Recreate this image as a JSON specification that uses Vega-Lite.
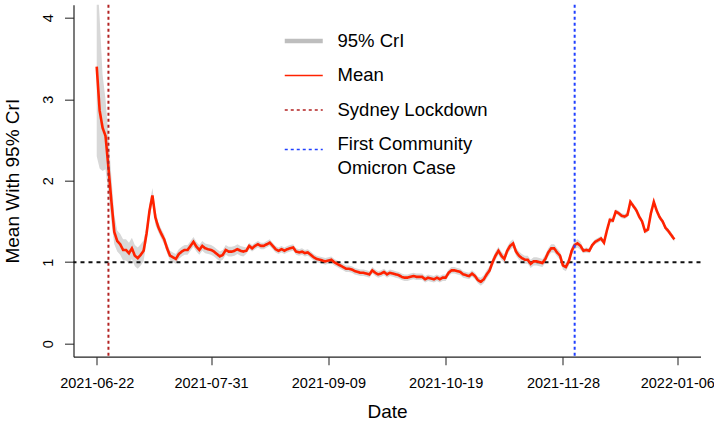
{
  "$schema": "https://vega.github.io/schema/vega-lite/v6.json",
  "width": 627,
  "height": 352,
  "autosize": {"type": "none"},
  "padding": {"left": 73.5, "top": 4.7, "right": 13.5, "bottom": 71.3},
  "background": "white",
  "config": {
    "view": {"stroke": null},
    "font": "Liberation Sans",
    "axis": {
      "grid": false,
      "domainColor": "#222222",
      "tickColor": "#444444",
      "domainWidth": 1.2,
      "tickWidth": 1.2,
      "labelColor": "#000000",
      "titleColor": "#000000",
      "labelFont": "Liberation Sans",
      "titleFont": "Liberation Sans",
      "labelFontSize": 14.5,
      "titleFontSize": 19,
      "titleFontWeight": "normal"
    },
    "legend": {
      "orient": "none", "legendX": 221, "legendY": 27,
      "symbolType": "M-2,0L2,0", "symbolSize": 361, "symbolStrokeWidth": 1.6,
      "labelFont": "Liberation Sans", "labelFontSize": 18.5, "labelColor": "#000000",
      "labelOffset": 24.5, "rowPadding": 15.5, "padding": 0, "labelLimit": 400
    }
  },
  "datasets": {
    "r": [
      {"date":"2021-06-22","mean":3.40,"lo":2.30,"hi":4.60},
      {"date":"2021-06-23","mean":2.86,"lo":2.15,"hi":4.00},
      {"date":"2021-06-24","mean":2.65,"lo":2.12,"hi":3.30},
      {"date":"2021-06-25","mean":2.55,"lo":2.14,"hi":3.00},
      {"date":"2021-06-26","mean":2.16,"lo":1.85,"hi":2.55},
      {"date":"2021-06-27","mean":1.75,"lo":1.50,"hi":2.05},
      {"date":"2021-06-28","mean":1.37,"lo":1.22,"hi":1.58},
      {"date":"2021-06-29","mean":1.26,"lo":1.13,"hi":1.39},
      {"date":"2021-06-30","mean":1.22,"lo":1.09,"hi":1.35},
      {"date":"2021-07-01","mean":1.15,"lo":1.02,"hi":1.28},
      {"date":"2021-07-02","mean":1.15,"lo":1.02,"hi":1.28},
      {"date":"2021-07-03","mean":1.11,"lo":0.98,"hi":1.24},
      {"date":"2021-07-04","mean":1.17,"lo":1.04,"hi":1.30},
      {"date":"2021-07-05","mean":1.08,"lo":0.95,"hi":1.21},
      {"date":"2021-07-06","mean":1.05,"lo":0.92,"hi":1.18},
      {"date":"2021-07-07","mean":1.09,"lo":0.96,"hi":1.22},
      {"date":"2021-07-08","mean":1.14,"lo":1.01,"hi":1.27},
      {"date":"2021-07-09","mean":1.35,"lo":1.26,"hi":1.44},
      {"date":"2021-07-10","mean":1.63,"lo":1.54,"hi":1.72},
      {"date":"2021-07-11","mean":1.82,"lo":1.73,"hi":1.91},
      {"date":"2021-07-12","mean":1.55,"lo":1.46,"hi":1.64},
      {"date":"2021-07-13","mean":1.43,"lo":1.37,"hi":1.49},
      {"date":"2021-07-14","mean":1.35,"lo":1.29,"hi":1.41},
      {"date":"2021-07-15","mean":1.28,"lo":1.22,"hi":1.34},
      {"date":"2021-07-16","mean":1.17,"lo":1.11,"hi":1.23},
      {"date":"2021-07-17","mean":1.08,"lo":1.02,"hi":1.14},
      {"date":"2021-07-18","mean":1.06,"lo":1.00,"hi":1.12},
      {"date":"2021-07-19","mean":1.04,"lo":0.98,"hi":1.10},
      {"date":"2021-07-20","mean":1.10,"lo":1.04,"hi":1.16},
      {"date":"2021-07-21","mean":1.13,"lo":1.07,"hi":1.19},
      {"date":"2021-07-22","mean":1.15,"lo":1.09,"hi":1.21},
      {"date":"2021-07-23","mean":1.15,"lo":1.09,"hi":1.21},
      {"date":"2021-07-24","mean":1.20,"lo":1.14,"hi":1.26},
      {"date":"2021-07-25","mean":1.25,"lo":1.19,"hi":1.31},
      {"date":"2021-07-26","mean":1.19,"lo":1.13,"hi":1.25},
      {"date":"2021-07-27","mean":1.15,"lo":1.09,"hi":1.21},
      {"date":"2021-07-28","mean":1.20,"lo":1.14,"hi":1.26},
      {"date":"2021-07-29","mean":1.17,"lo":1.11,"hi":1.23},
      {"date":"2021-07-30","mean":1.16,"lo":1.10,"hi":1.22},
      {"date":"2021-07-31","mean":1.15,"lo":1.09,"hi":1.21},
      {"date":"2021-08-01","mean":1.13,"lo":1.07,"hi":1.19},
      {"date":"2021-08-02","mean":1.10,"lo":1.04,"hi":1.16},
      {"date":"2021-08-03","mean":1.07,"lo":1.01,"hi":1.13},
      {"date":"2021-08-04","mean":1.09,"lo":1.03,"hi":1.15},
      {"date":"2021-08-05","mean":1.15,"lo":1.09,"hi":1.21},
      {"date":"2021-08-06","mean":1.13,"lo":1.07,"hi":1.19},
      {"date":"2021-08-07","mean":1.13,"lo":1.07,"hi":1.19},
      {"date":"2021-08-08","mean":1.14,"lo":1.08,"hi":1.20},
      {"date":"2021-08-09","mean":1.16,"lo":1.10,"hi":1.22},
      {"date":"2021-08-10","mean":1.14,"lo":1.08,"hi":1.20},
      {"date":"2021-08-11","mean":1.13,"lo":1.07,"hi":1.19},
      {"date":"2021-08-12","mean":1.14,"lo":1.10,"hi":1.18},
      {"date":"2021-08-13","mean":1.20,"lo":1.16,"hi":1.24},
      {"date":"2021-08-14","mean":1.17,"lo":1.13,"hi":1.21},
      {"date":"2021-08-15","mean":1.20,"lo":1.16,"hi":1.24},
      {"date":"2021-08-16","mean":1.22,"lo":1.18,"hi":1.26},
      {"date":"2021-08-17","mean":1.20,"lo":1.16,"hi":1.24},
      {"date":"2021-08-18","mean":1.20,"lo":1.16,"hi":1.24},
      {"date":"2021-08-19","mean":1.22,"lo":1.18,"hi":1.26},
      {"date":"2021-08-20","mean":1.24,"lo":1.20,"hi":1.28},
      {"date":"2021-08-21","mean":1.20,"lo":1.16,"hi":1.24},
      {"date":"2021-08-22","mean":1.16,"lo":1.12,"hi":1.20},
      {"date":"2021-08-23","mean":1.14,"lo":1.10,"hi":1.18},
      {"date":"2021-08-24","mean":1.16,"lo":1.12,"hi":1.20},
      {"date":"2021-08-25","mean":1.14,"lo":1.10,"hi":1.18},
      {"date":"2021-08-26","mean":1.16,"lo":1.12,"hi":1.20},
      {"date":"2021-08-27","mean":1.17,"lo":1.13,"hi":1.21},
      {"date":"2021-08-28","mean":1.18,"lo":1.14,"hi":1.22},
      {"date":"2021-08-29","mean":1.13,"lo":1.09,"hi":1.17},
      {"date":"2021-08-30","mean":1.12,"lo":1.08,"hi":1.16},
      {"date":"2021-08-31","mean":1.13,"lo":1.09,"hi":1.17},
      {"date":"2021-09-01","mean":1.11,"lo":1.07,"hi":1.15},
      {"date":"2021-09-02","mean":1.12,"lo":1.08,"hi":1.16},
      {"date":"2021-09-03","mean":1.09,"lo":1.05,"hi":1.13},
      {"date":"2021-09-04","mean":1.06,"lo":1.02,"hi":1.10},
      {"date":"2021-09-05","mean":1.04,"lo":1.00,"hi":1.08},
      {"date":"2021-09-06","mean":1.03,"lo":0.99,"hi":1.07},
      {"date":"2021-09-07","mean":1.02,"lo":0.98,"hi":1.06},
      {"date":"2021-09-08","mean":1.01,"lo":0.97,"hi":1.05},
      {"date":"2021-09-09","mean":1.02,"lo":0.98,"hi":1.06},
      {"date":"2021-09-10","mean":1.03,"lo":0.99,"hi":1.07},
      {"date":"2021-09-11","mean":1.00,"lo":0.96,"hi":1.04},
      {"date":"2021-09-12","mean":0.98,"lo":0.94,"hi":1.02},
      {"date":"2021-09-13","mean":0.96,"lo":0.92,"hi":1.00},
      {"date":"2021-09-14","mean":0.94,"lo":0.90,"hi":0.98},
      {"date":"2021-09-15","mean":0.92,"lo":0.88,"hi":0.96},
      {"date":"2021-09-16","mean":0.92,"lo":0.88,"hi":0.96},
      {"date":"2021-09-17","mean":0.91,"lo":0.87,"hi":0.95},
      {"date":"2021-09-18","mean":0.89,"lo":0.85,"hi":0.93},
      {"date":"2021-09-19","mean":0.88,"lo":0.84,"hi":0.92},
      {"date":"2021-09-20","mean":0.87,"lo":0.83,"hi":0.91},
      {"date":"2021-09-21","mean":0.87,"lo":0.83,"hi":0.91},
      {"date":"2021-09-22","mean":0.86,"lo":0.82,"hi":0.90},
      {"date":"2021-09-23","mean":0.85,"lo":0.81,"hi":0.89},
      {"date":"2021-09-24","mean":0.90,"lo":0.86,"hi":0.94},
      {"date":"2021-09-25","mean":0.87,"lo":0.83,"hi":0.91},
      {"date":"2021-09-26","mean":0.85,"lo":0.81,"hi":0.89},
      {"date":"2021-09-27","mean":0.86,"lo":0.82,"hi":0.90},
      {"date":"2021-09-28","mean":0.88,"lo":0.84,"hi":0.92},
      {"date":"2021-09-29","mean":0.85,"lo":0.81,"hi":0.89},
      {"date":"2021-09-30","mean":0.87,"lo":0.83,"hi":0.91},
      {"date":"2021-10-01","mean":0.86,"lo":0.82,"hi":0.90},
      {"date":"2021-10-02","mean":0.85,"lo":0.81,"hi":0.89},
      {"date":"2021-10-03","mean":0.84,"lo":0.80,"hi":0.88},
      {"date":"2021-10-04","mean":0.82,"lo":0.78,"hi":0.86},
      {"date":"2021-10-05","mean":0.81,"lo":0.77,"hi":0.85},
      {"date":"2021-10-06","mean":0.81,"lo":0.77,"hi":0.85},
      {"date":"2021-10-07","mean":0.82,"lo":0.78,"hi":0.86},
      {"date":"2021-10-08","mean":0.83,"lo":0.79,"hi":0.87},
      {"date":"2021-10-09","mean":0.82,"lo":0.78,"hi":0.86},
      {"date":"2021-10-10","mean":0.82,"lo":0.78,"hi":0.86},
      {"date":"2021-10-11","mean":0.82,"lo":0.78,"hi":0.86},
      {"date":"2021-10-12","mean":0.79,"lo":0.75,"hi":0.83},
      {"date":"2021-10-13","mean":0.81,"lo":0.77,"hi":0.85},
      {"date":"2021-10-14","mean":0.80,"lo":0.76,"hi":0.84},
      {"date":"2021-10-15","mean":0.79,"lo":0.75,"hi":0.83},
      {"date":"2021-10-16","mean":0.81,"lo":0.77,"hi":0.85},
      {"date":"2021-10-17","mean":0.79,"lo":0.75,"hi":0.83},
      {"date":"2021-10-18","mean":0.81,"lo":0.77,"hi":0.85},
      {"date":"2021-10-19","mean":0.81,"lo":0.77,"hi":0.85},
      {"date":"2021-10-20","mean":0.87,"lo":0.83,"hi":0.91},
      {"date":"2021-10-21","mean":0.90,"lo":0.86,"hi":0.94},
      {"date":"2021-10-22","mean":0.90,"lo":0.86,"hi":0.94},
      {"date":"2021-10-23","mean":0.89,"lo":0.85,"hi":0.93},
      {"date":"2021-10-24","mean":0.88,"lo":0.84,"hi":0.92},
      {"date":"2021-10-25","mean":0.85,"lo":0.81,"hi":0.89},
      {"date":"2021-10-26","mean":0.84,"lo":0.80,"hi":0.88},
      {"date":"2021-10-27","mean":0.83,"lo":0.79,"hi":0.87},
      {"date":"2021-10-28","mean":0.86,"lo":0.82,"hi":0.90},
      {"date":"2021-10-29","mean":0.83,"lo":0.79,"hi":0.87},
      {"date":"2021-10-30","mean":0.78,"lo":0.74,"hi":0.82},
      {"date":"2021-10-31","mean":0.76,"lo":0.71,"hi":0.81},
      {"date":"2021-11-01","mean":0.79,"lo":0.74,"hi":0.84},
      {"date":"2021-11-02","mean":0.85,"lo":0.80,"hi":0.90},
      {"date":"2021-11-03","mean":0.90,"lo":0.85,"hi":0.95},
      {"date":"2021-11-04","mean":1.00,"lo":0.95,"hi":1.05},
      {"date":"2021-11-05","mean":1.08,"lo":1.03,"hi":1.13},
      {"date":"2021-11-06","mean":1.14,"lo":1.09,"hi":1.19},
      {"date":"2021-11-07","mean":1.08,"lo":1.03,"hi":1.13},
      {"date":"2021-11-08","mean":1.04,"lo":0.99,"hi":1.09},
      {"date":"2021-11-09","mean":1.14,"lo":1.09,"hi":1.19},
      {"date":"2021-11-10","mean":1.20,"lo":1.15,"hi":1.25},
      {"date":"2021-11-11","mean":1.23,"lo":1.18,"hi":1.28},
      {"date":"2021-11-12","mean":1.13,"lo":1.08,"hi":1.18},
      {"date":"2021-11-13","mean":1.08,"lo":1.03,"hi":1.13},
      {"date":"2021-11-14","mean":1.05,"lo":1.00,"hi":1.10},
      {"date":"2021-11-15","mean":1.03,"lo":0.98,"hi":1.08},
      {"date":"2021-11-16","mean":1.03,"lo":0.98,"hi":1.08},
      {"date":"2021-11-17","mean":0.98,"lo":0.93,"hi":1.03},
      {"date":"2021-11-18","mean":1.01,"lo":0.96,"hi":1.06},
      {"date":"2021-11-19","mean":1.01,"lo":0.96,"hi":1.06},
      {"date":"2021-11-20","mean":1.00,"lo":0.95,"hi":1.05},
      {"date":"2021-11-21","mean":0.99,"lo":0.94,"hi":1.04},
      {"date":"2021-11-22","mean":1.04,"lo":0.99,"hi":1.09},
      {"date":"2021-11-23","mean":1.12,"lo":1.07,"hi":1.17},
      {"date":"2021-11-24","mean":1.17,"lo":1.12,"hi":1.22},
      {"date":"2021-11-25","mean":1.17,"lo":1.12,"hi":1.22},
      {"date":"2021-11-26","mean":1.12,"lo":1.07,"hi":1.17},
      {"date":"2021-11-27","mean":1.08,"lo":1.03,"hi":1.13},
      {"date":"2021-11-28","mean":0.96,"lo":0.91,"hi":1.01},
      {"date":"2021-11-29","mean":0.94,"lo":0.89,"hi":0.99},
      {"date":"2021-11-30","mean":1.01,"lo":0.96,"hi":1.06},
      {"date":"2021-12-01","mean":1.14,"lo":1.09,"hi":1.19},
      {"date":"2021-12-02","mean":1.21,"lo":1.16,"hi":1.26},
      {"date":"2021-12-03","mean":1.23,"lo":1.18,"hi":1.28},
      {"date":"2021-12-04","mean":1.20,"lo":1.15,"hi":1.25},
      {"date":"2021-12-05","mean":1.14,"lo":1.11,"hi":1.17},
      {"date":"2021-12-06","mean":1.15,"lo":1.12,"hi":1.18},
      {"date":"2021-12-07","mean":1.14,"lo":1.11,"hi":1.17},
      {"date":"2021-12-08","mean":1.21,"lo":1.18,"hi":1.24},
      {"date":"2021-12-09","mean":1.25,"lo":1.22,"hi":1.28},
      {"date":"2021-12-10","mean":1.27,"lo":1.24,"hi":1.30},
      {"date":"2021-12-11","mean":1.29,"lo":1.26,"hi":1.32},
      {"date":"2021-12-12","mean":1.24,"lo":1.21,"hi":1.27},
      {"date":"2021-12-13","mean":1.39,"lo":1.36,"hi":1.42},
      {"date":"2021-12-14","mean":1.52,"lo":1.49,"hi":1.55},
      {"date":"2021-12-15","mean":1.51,"lo":1.48,"hi":1.54},
      {"date":"2021-12-16","mean":1.62,"lo":1.59,"hi":1.65},
      {"date":"2021-12-17","mean":1.60,"lo":1.57,"hi":1.63},
      {"date":"2021-12-18","mean":1.57,"lo":1.54,"hi":1.60},
      {"date":"2021-12-19","mean":1.56,"lo":1.53,"hi":1.59},
      {"date":"2021-12-20","mean":1.58,"lo":1.55,"hi":1.61},
      {"date":"2021-12-21","mean":1.74,"lo":1.71,"hi":1.77},
      {"date":"2021-12-22","mean":1.69,"lo":1.66,"hi":1.72},
      {"date":"2021-12-23","mean":1.64,"lo":1.61,"hi":1.67},
      {"date":"2021-12-24","mean":1.56,"lo":1.53,"hi":1.59},
      {"date":"2021-12-25","mean":1.50,"lo":1.47,"hi":1.53},
      {"date":"2021-12-26","mean":1.38,"lo":1.35,"hi":1.41},
      {"date":"2021-12-27","mean":1.40,"lo":1.37,"hi":1.43},
      {"date":"2021-12-28","mean":1.60,"lo":1.57,"hi":1.63},
      {"date":"2021-12-29","mean":1.74,"lo":1.71,"hi":1.77},
      {"date":"2021-12-30","mean":1.63,"lo":1.60,"hi":1.66},
      {"date":"2021-12-31","mean":1.55,"lo":1.52,"hi":1.58},
      {"date":"2022-01-01","mean":1.50,"lo":1.47,"hi":1.53},
      {"date":"2022-01-02","mean":1.42,"lo":1.39,"hi":1.45},
      {"date":"2022-01-03","mean":1.38,"lo":1.35,"hi":1.41},
      {"date":"2022-01-04","mean":1.33,"lo":1.30,"hi":1.36},
      {"date":"2022-01-05","mean":1.28,"lo":1.25,"hi":1.31}
    ],
    "events": [
      {"date":"2021-06-26","event":"Sydney Lockdown"},
      {"date":"2021-12-02","event":"First Community Omicron Case"}
    ],
    "ref": [{"level": 1}]
  },
  "layer": [
    {
      "data": {"name": "r"},
      "mark": {"type": "area", "color": "#d8d8d8", "clip": true},
      "encoding": {
        "x": {
          "field": "date", "type": "temporal",
          "scale": {"type": "utc", "domain": [{"year":2021,"month":6,"date":14,"hours":2,"utc":true},{"year":2022,"month":1,"date":13,"hours":22,"utc":true}]},
          "axis": {
            "values": [
              {"year":2021,"month":6,"date":22,"utc":true},
              {"year":2021,"month":7,"date":31,"utc":true},
              {"year":2021,"month":9,"date":9,"utc":true},
              {"year":2021,"month":10,"date":19,"utc":true},
              {"year":2021,"month":11,"date":28,"utc":true},
              {"year":2022,"month":1,"date":6,"utc":true}
            ],
            "format": "%Y-%m-%d",
            "tickSize": 8,
            "labelPadding": 12,
            "labelFlush": false,
            "labelOverlap": false,
            "title": "Date",
            "titleY": 61,
            "titleBaseline": "alphabetic"
          }
        },
        "y": {
          "field": "lo", "type": "quantitative",
          "scale": {"domain": [-0.16, 4.16], "nice": false, "zero": false},
          "axis": {
            "values": [0, 1, 2, 3, 4],
            "format": "d",
            "tickSize": 9,
            "labelAngle": -90,
            "labelAlign": "center",
            "labelBaseline": "alphabetic",
            "labelPadding": 12,
            "title": "Mean With 95% CrI",
            "titleAngle": -90,
            "titleAlign": "center",
            "titleBaseline": "alphabetic",
            "titleX": -55,
            "titleY": 176
          }
        },
        "y2": {"field": "hi"}
      }
    },
    {
      "data": {"name": "ref"},
      "mark": {"type": "rule", "color": "#111111", "strokeDash": [4, 4], "strokeWidth": 2},
      "encoding": {
        "y": {"field": "level", "type": "quantitative"}
      }
    },
    {
      "data": {"name": "r"},
      "mark": {"type": "line", "strokeWidth": 2.6, "clip": true},
      "encoding": {
        "x": {"field": "date", "type": "temporal"},
        "y": {"field": "mean", "type": "quantitative"},
        "color": {
          "datum": "Mean", "type": "nominal",
          "scale": {"domain": ["95% CrI", "Mean", "Sydney Lockdown", "First Community Omicron Case"], "range": ["#bebebe", "#ff2200", "#b22222", "#2040ff"]},
          "legend": {
            "title": null,
            "labelExpr": "datum.value == 'First Community Omicron Case' ? ['First Community', '\u00a0Omicron Case'] : datum.label",
            "encode": {
              "symbols": {"update": {
                "strokeWidth": {"signal": "datum.value == '95% CrI' ? 4.5 : 1.6"},
                "y": {"signal": "datum.size * 0.5 + (datum.value == 'First Community Omicron Case' ? 5 : 0)"}
              }},
              "labels": {"update": {"lineHeight": {"value": 23.4}}}
            }
          }
        },
        "strokeDash": {
          "datum": "Mean", "type": "nominal",
          "scale": {"domain": ["95% CrI", "Mean", "Sydney Lockdown", "First Community Omicron Case"], "range": [[1, 0], [1, 0], [3, 3], [3, 3]]},
          "legend": {
            "title": null,
            "labelExpr": "datum.value == 'First Community Omicron Case' ? ['First Community', '\u00a0Omicron Case'] : datum.label",
            "encode": {
              "symbols": {"update": {
                "strokeWidth": {"signal": "datum.value == '95% CrI' ? 4.5 : 1.6"},
                "y": {"signal": "datum.size * 0.5 + (datum.value == 'First Community Omicron Case' ? 5 : 0)"}
              }},
              "labels": {"update": {"lineHeight": {"value": 23.4}}}
            }
          }
        }
      }
    },
    {
      "data": {"name": "events"},
      "mark": {"type": "rule", "strokeWidth": 2},
      "encoding": {
        "x": {"field": "date", "type": "temporal"},
        "color": {"field": "event", "type": "nominal", "legend": {"title": null}},
        "strokeDash": {"field": "event", "type": "nominal", "legend": {"title": null}}
      }
    }
  ]
}
